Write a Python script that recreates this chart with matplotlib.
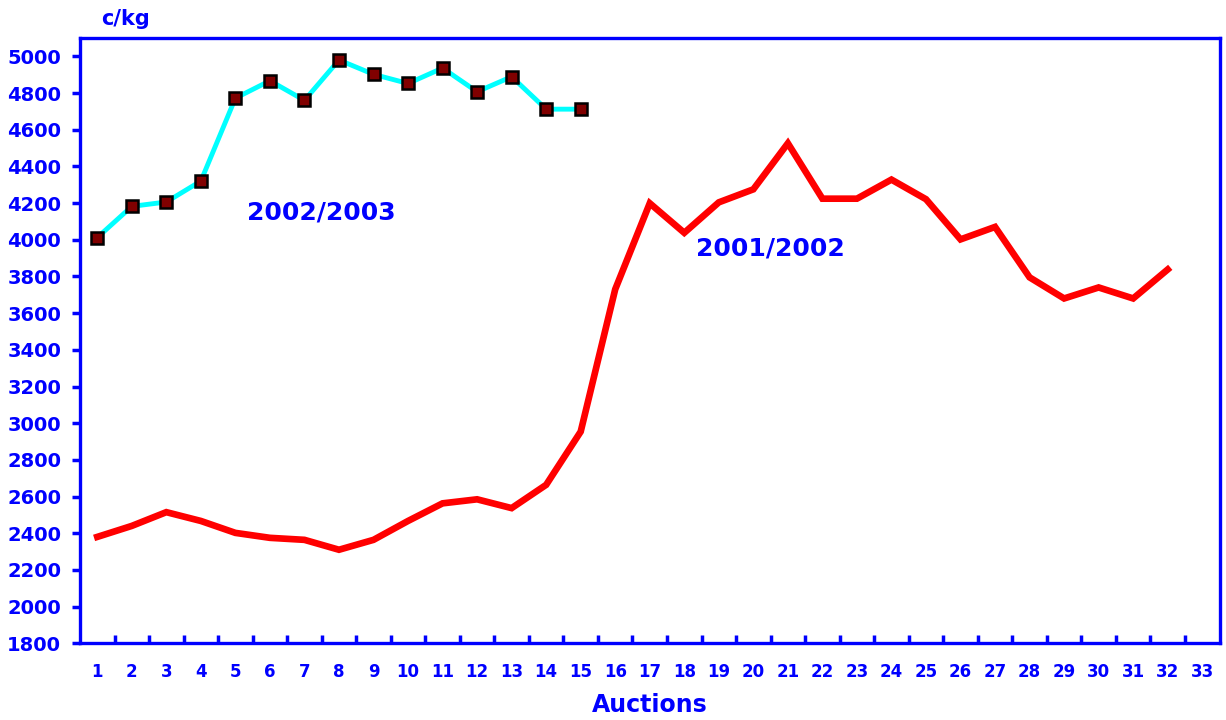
import matplotlib
matplotlib.use("Agg")
import matplotlib.pyplot as plt
import numpy as np

auctions_01 = list(range(1, 33))
price_01 = [2380, 2440, 2515, 2467, 2402, 2375, 2364, 2310, 2364, 2467,
            2563, 2585, 2537, 2664, 2954, 3730, 4199, 4038, 4204, 4275,
            4526, 4224, 4224, 4328, 4221, 4002, 4070, 3795, 3680, 3740,
            3680, 3838]
auctions_02 = list(range(1, 16))
price_02 = [4012, 4182, 4206, 4320, 4772, 4867, 4760, 4980, 4902, 4852,
            4936, 4807, 4889, 4712, 4712]
xticks = list(range(1, 34))
yticks = list(range(1800, 5001, 200))

BLUE = "#0000FF"
plt.rcParams['font.family'] = ['DejaVu Sans']

fig = plt.figure(figsize=(12.26, 7.2), dpi=100)
ax = fig.add_axes([80/1226, 1-643.3/720, (1219.5-80)/1226, (643.3-38)/720])

ax.plot(auctions_01, price_01, color="#FF0000", lw=4.8, solid_joinstyle='miter', zorder=3)
ax.plot(auctions_02, price_02, color="#00FFFF", lw=3.5, zorder=3,
        marker='s', markersize=8.5, markerfacecolor="#800000",
        markeredgecolor="black", markeredgewidth=1.8)

ax.set_xlim(0.5, 33.5)
ax.set_ylim(1800, 5100)

for s in ax.spines.values():
    s.set_color(BLUE)
    s.set_linewidth(2.4)

ax.set_yticks(yticks)
ax.set_yticklabels([str(v) for v in yticks])
ax.set_xticks(xticks)
ax.set_xticklabels([str(v) for v in xticks])
ax.set_xticks(np.arange(1.5, 33, 1.0), minor=True)

ax.tick_params(axis='y', which='major', direction='out', length=6, width=2.5,
               color=BLUE, labelcolor=BLUE, labelsize=14, pad=7.5)
ax.tick_params(axis='x', which='major', length=0, labelcolor=BLUE,
               labelsize=12, pad=14)
ax.tick_params(axis='x', which='minor', direction='in', length=6, width=2.5,
               color=BLUE)
for lab in ax.get_xticklabels() + ax.get_yticklabels():
    lab.set_fontweight('bold')

ax.text(7.5, 4150, "2002/2003", color=BLUE, fontsize=18, fontweight='bold',
        ha='center', va='center')
ax.text(20.5, 3953, "2001/2002", color=BLUE, fontsize=18, fontweight='bold',
        ha='center', va='center')

fig.text(126/1226, 1-19/720, "c/kg", color=BLUE, fontsize=15, fontweight='bold',
         ha='center', va='center')
fig.text(650/1226, 1-705/720, "Auctions", color=BLUE, fontsize=17, fontweight='bold',
         ha='center', va='center')

fig.savefig("out.png", dpi=100)
